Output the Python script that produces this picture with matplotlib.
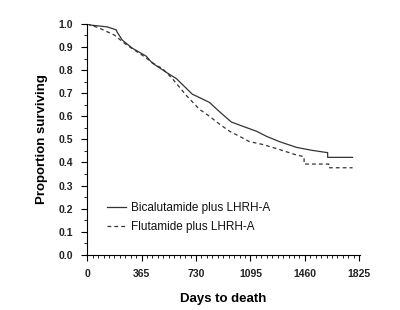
import matplotlib.pyplot as plt
from matplotlib.ticker import MultipleLocator

plt.rcParams['font.family'] = ['Liberation Sans', 'DejaVu Sans']

# Kaplan-Meier curves (days, proportion surviving)
bica_days = [0, 20, 134, 195, 200, 235, 302, 396, 437, 531, 598, 706, 740,
             820, 887, 967, 1042, 1136, 1203, 1290, 1405, 1512, 1606, 1613,
             1613, 1780]
bica_surv = [1.0, 0.995, 0.987, 0.974, 0.965, 0.93, 0.895, 0.86, 0.83, 0.79,
             0.763, 0.695, 0.685, 0.66, 0.62, 0.575, 0.557, 0.535, 0.513, 0.49,
             0.465, 0.452, 0.443, 0.443, 0.422, 0.422]

flut_days = [0, 80, 181, 262, 370, 464, 504, 571, 665, 753, 820, 887, 955,
             1022, 1089, 1176, 1290, 1405, 1455, 1455, 1620, 1620, 1780]
flut_surv = [1.0, 0.982, 0.952, 0.91, 0.864, 0.82, 0.807, 0.763, 0.69, 0.63,
             0.60, 0.566, 0.535, 0.513, 0.49, 0.478, 0.456, 0.432, 0.425,
             0.393, 0.393, 0.377, 0.377]

x_ticks = [0, 365, 730, 1095, 1460, 1825]
y_ticks = [0.0, 0.1, 0.2, 0.3, 0.4, 0.5, 0.6, 0.7, 0.8, 0.9, 1.0]

fig = plt.figure(figsize=(4, 3.1), dpi=100)
ax = fig.add_axes([0.218, 0.178, 0.682, 0.745])

ax.plot(bica_days, bica_surv, color='#333333', lw=0.9,
        label='Bicalutamide plus LHRH-A')
ax.plot(flut_days, flut_surv, color='#333333', lw=0.9, ls=(0, (3, 2.5)),
        label='Flutamide plus LHRH-A')

ax.set_xlim(0, 1830)
ax.set_ylim(0, 1.0)
ax.set_xticks(x_ticks)
ax.set_yticks(y_ticks)
ax.set_yticklabels([f"{v:.1f}" for v in y_ticks])
ax.xaxis.set_minor_locator(MultipleLocator(36.5))
ax.yaxis.set_minor_locator(MultipleLocator(0.05))
ax.tick_params(which='major', length=4, width=0.8, labelsize=7.5, pad=6)
ax.tick_params(which='minor', length=2.5, width=0.6)
for lab in ax.get_xticklabels() + ax.get_yticklabels():
    lab.set_fontweight('bold')
    lab.set_color('#222222')

for s in ['top', 'right']:
    ax.spines[s].set_visible(False)
for s in ['left', 'bottom']:
    ax.spines[s].set_linewidth(0.8)

ax.set_xlabel('Days to death', fontsize=9.5, fontweight='bold', labelpad=10)
ax.set_ylabel('Proportion surviving', fontsize=9.5, fontweight='bold', labelpad=8)

leg = ax.legend(loc='lower left', bbox_to_anchor=(0.035, 0.05), frameon=False,
                fontsize=8.5, handlelength=1.6, handletextpad=0.4,
                labelspacing=0.55)
for t in leg.get_texts():
    t.set_color('#111111')

fig.savefig('out.png', dpi=100)
